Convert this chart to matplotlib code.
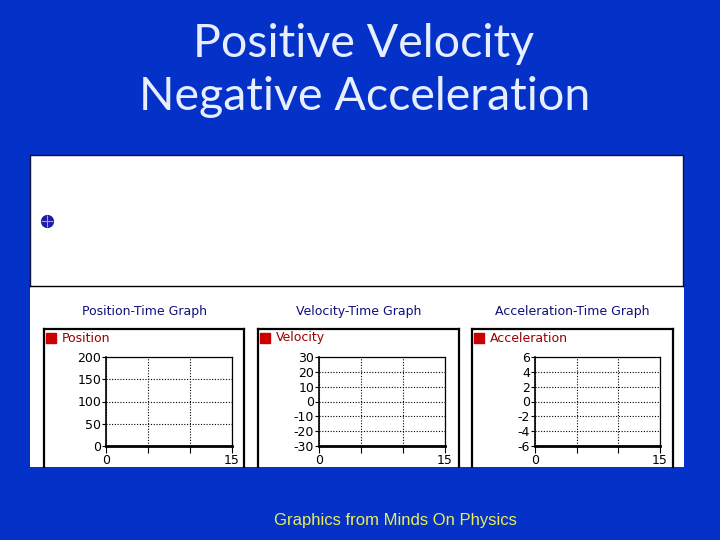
import matplotlib
matplotlib.use('Agg')
import matplotlib.pyplot as plt

# values
time_ticks = [0, 5, 10, 15]
time_labels = ['0', '', '', '15']
graph_titles = ['Position-Time Graph', 'Velocity-Time Graph', 'Acceleration-Time Graph']
series_names = ['Position', 'Velocity', 'Acceleration']
position_ticks = [0, 50, 100, 150, 200]
velocity_ticks = [-30, -20, -10, 0, 10, 20, 30]
acceleration_ticks = [-6, -4, -2, 0, 2, 4, 6]
dot_position = [0]
dot_height = [0]

W, H = 720, 540
BG = '#0432c8'


def px(left, top, right, bottom):
    """pixel box -> figure fraction rect"""
    return [left / W, 1 - bottom / H, (right - left) / W, (bottom - top) / H]


plt.rcParams['axes.unicode_minus'] = False
fig = plt.figure(figsize=(7.2, 5.4), dpi=100, facecolor=BG)

# white panels
low = fig.add_axes(px(30, 287, 684, 467))
low.set_facecolor('white')
low.set_xticks([])
low.set_yticks([])
for s in low.spines.values():
    s.set_visible(False)

top = fig.add_axes(px(30, 155, 683, 286))
top.set_facecolor('white')
top.set_xticks([])
top.set_yticks([])
for s in top.spines.values():
    s.set_color('#101040')
    s.set_linewidth(1)
top.spines['bottom'].set_color('black')
top.set_xlim(-5.4, 200)
top.set_ylim(-1, 1)
top.plot(dot_position, dot_height, 'o', ms=8.5, color='#1c1ca0', zorder=3)
top.plot(dot_position, dot_height, '+', ms=8, mew=0.8, color='#9aa0ff', zorder=4)

boxes = [(44, 244), (258, 459), (472, 673)]
plots = [(106, 232), (319, 445), (535, 660)]
yticks = [position_ticks, velocity_ticks, acceleration_ticks]

for (bl, br), (pl, pr), title, name, yt in zip(boxes, plots, graph_titles, series_names, yticks):
    box = fig.add_axes(px(bl, 329, br, 467))
    box.set_facecolor('white')
    box.set_xticks([])
    box.set_yticks([])
    box.set_xlim(0, 1)
    box.set_ylim(0, 1)
    for s in box.spines.values():
        s.set_linewidth(1.6)
        s.set_color('black')
    box.spines['bottom'].set_visible(False)
    box.plot([7 / (br - bl)], [1 - 9 / 138], 's', ms=7.2, color='#cc0000',
             transform=box.transAxes, clip_on=False)
    box.text(18 / (br - bl), 1 - 9 / 138, name, transform=box.transAxes,
             color='#990000', fontsize=9, va='center', ha='left')

    fig.text((bl + br) / 2 / W, 1 - 311 / H, title, color='#10107a',
             fontsize=9, ha='center', va='center')

    ax = fig.add_axes(px(pl, 357, pr, 446))
    ax.set_facecolor('none')
    ax.set_xlim(time_ticks[0], time_ticks[-1])
    ax.set_ylim(yt[0], yt[-1])
    ax.set_xticks(time_ticks)
    ax.set_xticklabels(time_labels)
    ax.set_yticks(yt)
    ax.set_yticklabels([str(v) for v in yt])
    ax.grid(True, color='black', linestyle=(0, (1, 1.5)), linewidth=0.8)
    ax.tick_params(axis='y', direction='out', length=3, width=0.8, pad=0.5,
                   labelsize=9, colors='black')
    ax.tick_params(axis='x', direction='out', length=5, width=0.8, pad=0.5,
                   labelsize=9, colors='black')
    for s in ax.spines.values():
        s.set_color('black')
        s.set_linewidth(0.9)
    ax.spines['bottom'].set_linewidth(2)
    ax.spines['left'].set_linewidth(1.2)

fig.text(364 / W, 1 - 44 / H, 'Positive Velocity', color='#e6eeff',
         fontsize=33.5, family='Lato', ha='center', va='center')
fig.text(365 / W, 1 - 97 / H, 'Negative Acceleration', color='#e6eeff',
         fontsize=33.5, family='Lato', ha='center', va='center')

fig.text(395.5 / W, 1 - 520 / H, 'Graphics from Minds On Physics',
         color='#eeee55', fontsize=12, family='Liberation Sans',
         ha='center', va='center')

fig.savefig('out.png', dpi=100, facecolor=BG)
